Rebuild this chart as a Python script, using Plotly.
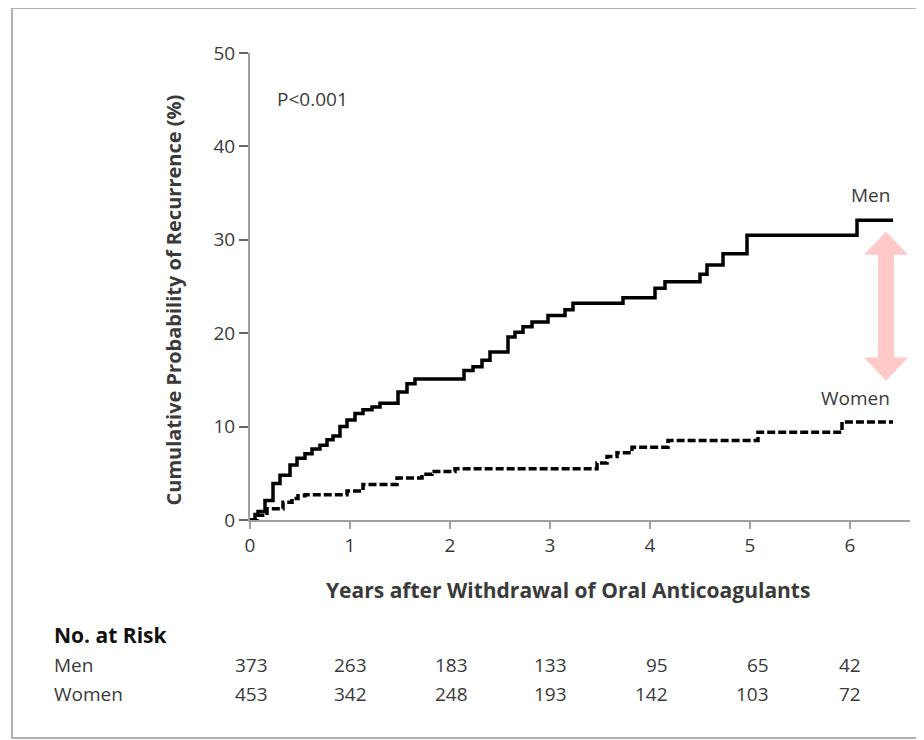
import plotly.graph_objects as go

# ---- data ----
men_years = [0, 0.05, 0.08, 0.15, 0.23, 0.30, 0.40, 0.47, 0.55, 0.62, 0.70, 0.77, 0.83, 0.90, 0.97,
             1.05, 1.13, 1.22, 1.30, 1.48, 1.57, 1.65, 2.14, 2.23, 2.32, 2.40, 2.58, 2.65, 2.73, 2.82,
             2.98, 3.15, 3.23, 3.73, 4.05, 4.15, 4.50, 4.57, 4.73, 4.97, 6.07, 6.43]
men_pct = [0, 0.6, 0.9, 2.1, 3.9, 4.8, 5.9, 6.6, 7.1, 7.6, 8.0, 8.6, 9.0, 10.0, 10.7,
           11.4, 11.8, 12.1, 12.5, 13.7, 14.6, 15.1, 16.0, 16.4, 17.1, 18.0, 19.6, 20.1, 20.7, 21.2,
           21.9, 22.5, 23.2, 23.8, 24.8, 25.5, 26.3, 27.3, 28.5, 30.5, 32.1, 32.1]

women_years = [0, 0.07, 0.17, 0.33, 0.42, 0.48, 0.55, 0.97, 1.13, 1.47, 1.72, 1.82, 2.05,
               3.47, 3.57, 3.67, 3.82, 4.18, 5.08, 5.92, 6.43]
women_pct = [0, 0.5, 1.2, 1.9, 2.3, 2.6, 2.7, 3.1, 3.8, 4.5, 4.9, 5.2, 5.5,
             6.1, 6.8, 7.2, 7.8, 8.5, 9.4, 10.5, 10.5]

risk_years = [0, 1, 2, 3, 4, 5, 6]
men_at_risk = [373, 263, 183, 133, 95, 65, 42]
women_at_risk = [453, 342, 248, 193, 142, 103, 72]

x_ticks = [0, 1, 2, 3, 4, 5, 6]
y_ticks = [0, 10, 20, 30, 40, 50]

FONT = "Open Sans, Noto Sans, Liberation Sans, sans-serif"
TXT = "#3a3a3a"
AXC = "#a0a0a0"
TS = 19  # general text size

fig = go.Figure()
fig.add_trace(go.Scatter(x=men_years, y=men_pct, mode="lines", line_shape="hv",
                         line=dict(color="black", width=3.5), showlegend=False, cliponaxis=False))
fig.add_trace(go.Scatter(x=women_years, y=women_pct, mode="lines", line_shape="hv",
                         line=dict(color="black", width=3.5, dash="8px,3px"), showlegend=False,
                         cliponaxis=False))

# double-headed pink arrow between curves
ax = 6.36
hw, sw = 0.22, 0.08
top, top_base, bot_base, bot = 30.9, 28.4, 17.4, 14.9
path = (f"M {ax},{top} L {ax+hw},{top_base} L {ax+sw},{top_base} L {ax+sw},{bot_base} "
        f"L {ax+hw},{bot_base} L {ax},{bot} L {ax-hw},{bot_base} L {ax-sw},{bot_base} "
        f"L {ax-sw},{top_base} L {ax-hw},{top_base} Z")
fig.add_shape(type="path", path=path, xref="x", yref="y", fillcolor="#FFC9C9",
              line=dict(width=0), layer="above")

# frame
fig.add_shape(type="rect", xref="paper", yref="paper", x0=-0.3606, x1=1.2, y0=-0.4668, y1=1.0964,
              line=dict(color="#b0b0b0", width=2), layer="below")

ann = []
ann.append(dict(x=0.25, y=45.1, xref="x", yref="y", text="P<0.001", showarrow=False,
                xanchor="left", yanchor="middle", font=dict(size=TS, color=TXT, family=FONT)))
ann.append(dict(x=6.42, y=33.2, xref="x", yref="y", text="Men", showarrow=False,
                xanchor="right", yanchor="bottom", font=dict(size=TS, color=TXT, family=FONT)))
ann.append(dict(x=6.42, y=11.5, xref="x", yref="y", text="Women", showarrow=False,
                xanchor="right", yanchor="bottom", font=dict(size=TS, color=TXT, family=FONT)))
# axis titles
ann.append(dict(x=-0.116, y=0.471, xref="paper", yref="paper", text="<b>Cumulative Probability of Recurrence (%)</b>",
                textangle=-90, showarrow=False, xanchor="center", yanchor="middle",
                font=dict(size=20, color=TXT, family=FONT)))
ann.append(dict(x=3.18, y=-0.15, xref="x", yref="paper", text="<b>Years after Withdrawal of Oral Anticoagulants</b>",
                showarrow=False, xanchor="center", yanchor="middle",
                font=dict(size=21, color=TXT, family=FONT)))
# at-risk table
ann.append(dict(x=-0.3, y=-0.246, xref="paper", yref="paper", text="<b>No. at Risk</b>",
                showarrow=False, xanchor="left", yanchor="middle", font=dict(size=21, color="#111", family=FONT)))
ann.append(dict(x=-0.3, y=-0.310, xref="paper", yref="paper", text="Men",
                showarrow=False, xanchor="left", yanchor="middle", font=dict(size=TS, color=TXT, family=FONT)))
ann.append(dict(x=-0.3, y=-0.3726, xref="paper", yref="paper", text="Women",
                showarrow=False, xanchor="left", yanchor="middle", font=dict(size=TS, color=TXT, family=FONT)))
col_shift = [20, 19, 20, 19, 20, 21, 13]
for yr, m, w, sh in zip(risk_years, men_at_risk, women_at_risk, col_shift):
    ann.append(dict(x=yr, y=-0.310, xref="x", yref="paper", text=str(m), showarrow=False,
                    xanchor="right", yanchor="middle", xshift=sh, font=dict(size=TS, color=TXT, family=FONT)))
    ann.append(dict(x=yr, y=-0.3726, xref="x", yref="paper", text=str(w), showarrow=False,
                    xanchor="right", yanchor="middle", xshift=sh, font=dict(size=TS, color=TXT, family=FONT)))

fig.update_layout(
    width=916, height=732,
    margin=dict(l=242, r=14, t=45, b=220),
    paper_bgcolor="white", plot_bgcolor="white",
    font=dict(family=FONT, color=TXT, size=TS),
    annotations=ann,
    xaxis=dict(range=[0, 6.6], tickvals=x_ticks, ticks="outside", ticklen=7, tickwidth=1.5,
               tickcolor=AXC, showline=True, linecolor=AXC, linewidth=2, showgrid=False,
               zeroline=False, tickfont=dict(size=TS, color=TXT, family=FONT)),
    yaxis=dict(range=[0, 50], tickvals=y_ticks, ticks="outside", ticklen=9, tickwidth=1.5,
               tickcolor="#666", showline=True, linecolor=AXC, linewidth=2, showgrid=False,
               zeroline=False, ticklabelstandoff=0, tickfont=dict(size=TS, color=TXT, family=FONT)),
)

fig.write_html("out.html")
